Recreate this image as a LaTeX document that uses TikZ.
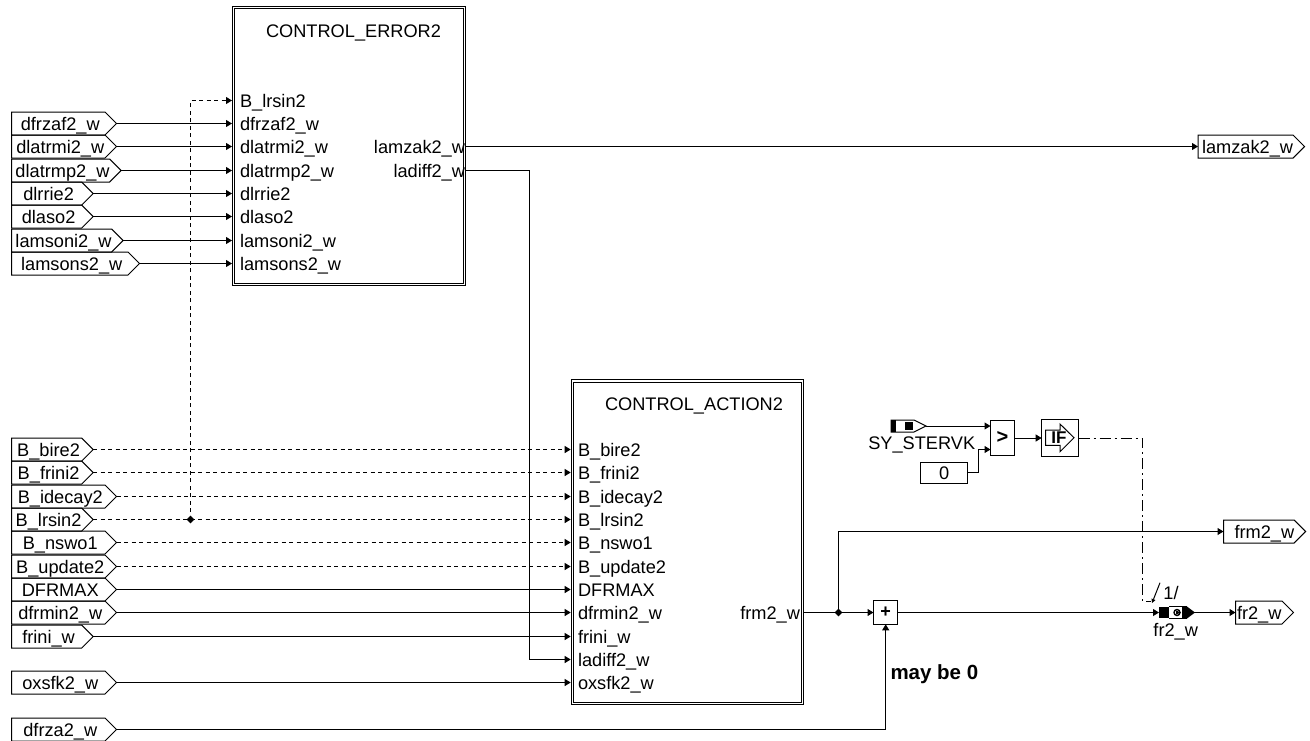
\documentclass[tikz,border=0pt]{standalone}
\usepackage{fontspec}
\setmainfont{Liberation Sans}
\usetikzlibrary{arrows.meta,shapes.symbols,shapes.geometric}
\tikzset{
  lbl/.style={inner sep=0pt,outer sep=0pt,text height=16pt,text depth=2pt,font=\fontsize{18.2}{20}\selectfont},
  port/.style={lbl,anchor=west},
  oport/.style={lbl,anchor=east},
  flag/.style={draw,line width=1pt,lbl,shape=signal,signal to=east,signal from=nowhere,signal pointer angle=90,
     anchor=west,minimum height=23pt,minimum width=#1,inner xsep=0pt,inner ysep=0pt},
  block/.style={draw,double,double distance=1.2pt,line width=1pt,anchor=north west,inner sep=0pt,outer sep=1.6pt},
  box/.style={draw,line width=1pt,inner sep=0pt,outer sep=0pt,anchor=north west},
  wire/.style={line width=1pt,-{Triangle[length=6pt,width=7pt]}},
  plain/.style={line width=1pt},
  dwire/.style={wire,dash pattern=on 4pt off 3.5pt},
  ddash/.style={line width=1pt,dash pattern=on 11pt off 4pt on 2pt off 4pt},
  junc/.style={diamond,fill=black,inner sep=0pt,minimum size=8pt},
}
\newcommand{\fl}[1]{\hspace*{4pt}#1}
\begin{document}
\begin{tikzpicture}[x=1pt,y=-1pt]
\useasboundingbox (0,0) rectangle (1310,740);
% blocks
\node[block,minimum width=230.8pt,minimum height=276.8pt] (ce) at (232,6) {};
\node[block,minimum width=230.4pt,minimum height=322.7pt] (ca) at (570.7,379.3) {};
\node[lbl] (cet) at (353.5,30.3) {CONTROL\_ERROR2};
\node[lbl] (cat) at (694,403) {CONTROL\_ACTION2};
% block 1 ports
\foreach \n/\t/\y in {a/B\_lrsin2/100.5,b/dfrzaf2\_w/123.5,c/dlatrmi2\_w/146.5,d/dlatrmp2\_w/170.5,e/dlrrie2/193.5,f/dlaso2/216.5,g/lamsoni2\_w/240.5,h/lamsons2\_w/263.5}
  \node[port] (p\n) at (240,\y) {\t};
% block 2 ports
\foreach \n/\t/\y in {a/B\_bire2/449.5,b/B\_frini2/472.5,c/B\_idecay2/496.5,d/B\_lrsin2/519.5,e/B\_nswo1/542.5,f/B\_update2/566.5,g/DFRMAX/589.5,h/dfrmin2\_w/612.5,i/frini\_w/636.5,j/ladiff2\_w/659.5,k/oxsfk2\_w/682.5}
  \node[port] (q\n) at (578,\y) {\t};
\node[oport] (olam) at (465,146.5) {lamzak2\_w};
\node[oport] (olad) at (465,170.5) {ladiff2\_w};
\node[oport] (ofrm) at (800,612.5) {frm2\_w};
% input flags
\foreach \n/\t/\y/\w in {b/dfrzaf2\_w/123.5/105,c/dlatrmi2\_w/146.5/105,d/dlatrmp2\_w/170.5/105,e/dlrrie2/193.5/81.7,f/dlaso2/216.5/81.7,g/lamsoni2\_w/240.5/105,h/lamsons2\_w/263.5/128}
  \node[flag=\w pt] (f\n) at (11.5,\y) {\fl{\t}};
\foreach \n in {b,c,d,e,f,g,h}
  \draw[wire] (f\n.east) -- (f\n.east -| ce.west);
\foreach \n/\t/\y/\w in {a/B\_bire2/449.5/81.7,b/B\_frini2/472.5/81.7,c/B\_idecay2/496.5/105,d/B\_lrsin2/519.5/81.7,e/B\_nswo1/542.5/105,f/B\_update2/566.5/105,g/DFRMAX/589.5/105,h/dfrmin2\_w/612.5/105,i/frini\_w/636.5/81.7,k/oxsfk2\_w/682.5/105,z/dfrza2\_w/729.5/105}
  \node[flag=\w pt] (g\n) at (11.5,\y) {\fl{\t}};
\foreach \n in {a,b,c,d,e,f}
  \draw[dwire] (g\n.east) -- (g\n.east -| ca.west);
\foreach \n in {g,h,i,k}
  \draw[wire] (g\n.east) -- (g\n.east -| ca.west);
% B_lrsin2 branch
\node[junc] (j1) at (190.5,519.5) {};
\draw[dwire] (j1.center) -- (190.5,100.5) -- (pa.west -| ce.west);
% outputs
\node[flag=96pt] (flam) at (1198,146.5) {\fl{lamzak2\_w}};
\draw[wire] (olam.east -| ce.east) -- (flam.west);
\coordinate (c1) at (529.5,170.5);
\draw[wire] (olad.east -| ce.east) -- (c1) -- (c1 |- qj.west) -- (qj.west -| ca.west);
% plus block
\node[box,minimum width=24.4pt,minimum height=23.6pt,font=\bfseries\fontsize{18}{18}\selectfont] (plus) at (873.5,600.7) {+};
\node[junc] (j2) at (838.5,612.5) {};
\draw[plain] (ofrm.east -| ca.east) -- (j2.center);
\draw[wire] (j2.center) -- (plus.west);
\node[flag=75pt] (ffrm) at (1223.5,531.5) {\hspace*{11pt}frm2\_w};
\draw[wire] (j2.center) -- (838.5,531.5) -- (ffrm.west);
\draw[wire] (gz.east) -- (gz.east -| plus.south) -- (plus.south);
\node[lbl,anchor=west,font=\bfseries\fontsize{20.5}{22}\selectfont] (may) at (890.5,672) {may be 0};
% fr2 message
\node[draw=none,minimum width=35pt,minimum height=12pt,inner sep=0pt,anchor=west] (msg) at (1159,612.5) {};
\fill (1159,606.8) rectangle (1169,618.4);
\draw[line width=1pt] (1169,606.8) -- (1187,606.8) (1169,618.4) -- (1187,618.4);
\fill (1182,606.5) -- (1187,606.5) -- (1195,612.5) -- (1187,618.5) -- (1182,618.5) -- cycle;
\draw[line width=1.4pt] (1177,612.5) circle (3pt);
\fill (1176,610.5) -- (1181,612.5) -- (1176,614.5) -- cycle;
\node[lbl] (frl) at (1175.7,629) {fr2\_w};
\node[flag=58pt] (ffr) at (1235.5,612.5) {\hspace*{1pt}fr2\_w};
\draw[wire] (plus.east) -- (msg.west);
\draw[wire] (msg.east) -- (ffr.west);
\node[lbl] (one) at (1171,592) {1/};
% SY_STERVK
\node[draw=none,minimum width=35pt,minimum height=12pt,inner sep=0pt,anchor=west] (sy) at (891,426) {};
\draw[line width=1pt] (891,420) -- (914,420) -- (926,426) -- (914,432) -- (891,432) -- cycle;
\fill (891,420) rectangle (896,432);
\fill (905,422) rectangle (912.7,430);
\node[lbl] (syl) at (921.7,442.3) {SY\_STERVK};
% compare
\node[box,minimum width=24pt,minimum height=35.3pt,font=\bfseries\fontsize{20}{20}\selectfont] (cmp) at (990.5,420) {>};
\node[box,minimum width=47.3pt,minimum height=21.3pt,lbl,anchor=north west,draw] (zero) at (920.5,462) {0};
\draw[wire] (926,426) -- (sy.east -| cmp.west);
\coordinate (c2) at (978.5,449.5);
\draw[wire] (zero.east) -- (c2 |- zero.east) -- (c2) -- (c2 -| cmp.west);
% IF
\node[box,minimum width=37pt,minimum height=37.4pt] (ifb) at (1041.7,419.3) {};
\draw[line width=1pt] (1045.7,430) -- (1060,430) -- (1060,424) -- (1074,437.7) -- (1060,451.7) -- (1060,445.3) -- (1045.7,445.3) -- cycle;
\node[inner sep=0pt,font=\bfseries\fontsize{17}{17}\selectfont] (ift) at (1059,437.7) {IF};
\draw[wire] (cmp.east |- ifb.west) -- (ifb.west);
\coordinate (c3) at (1142.5,438);
\coordinate (c4) at (1142.5,601.5);
\coordinate (c5) at (1152,603);
\coordinate (c6) at (1160,582.7);
\draw[ddash] (ifb.east) -- (c3) -- (c4) -- (1151,601.5);
\draw[wire,-{Triangle[length=4pt,width=4pt]}] (c6) -- (c5);
\end{tikzpicture}
\end{document}
